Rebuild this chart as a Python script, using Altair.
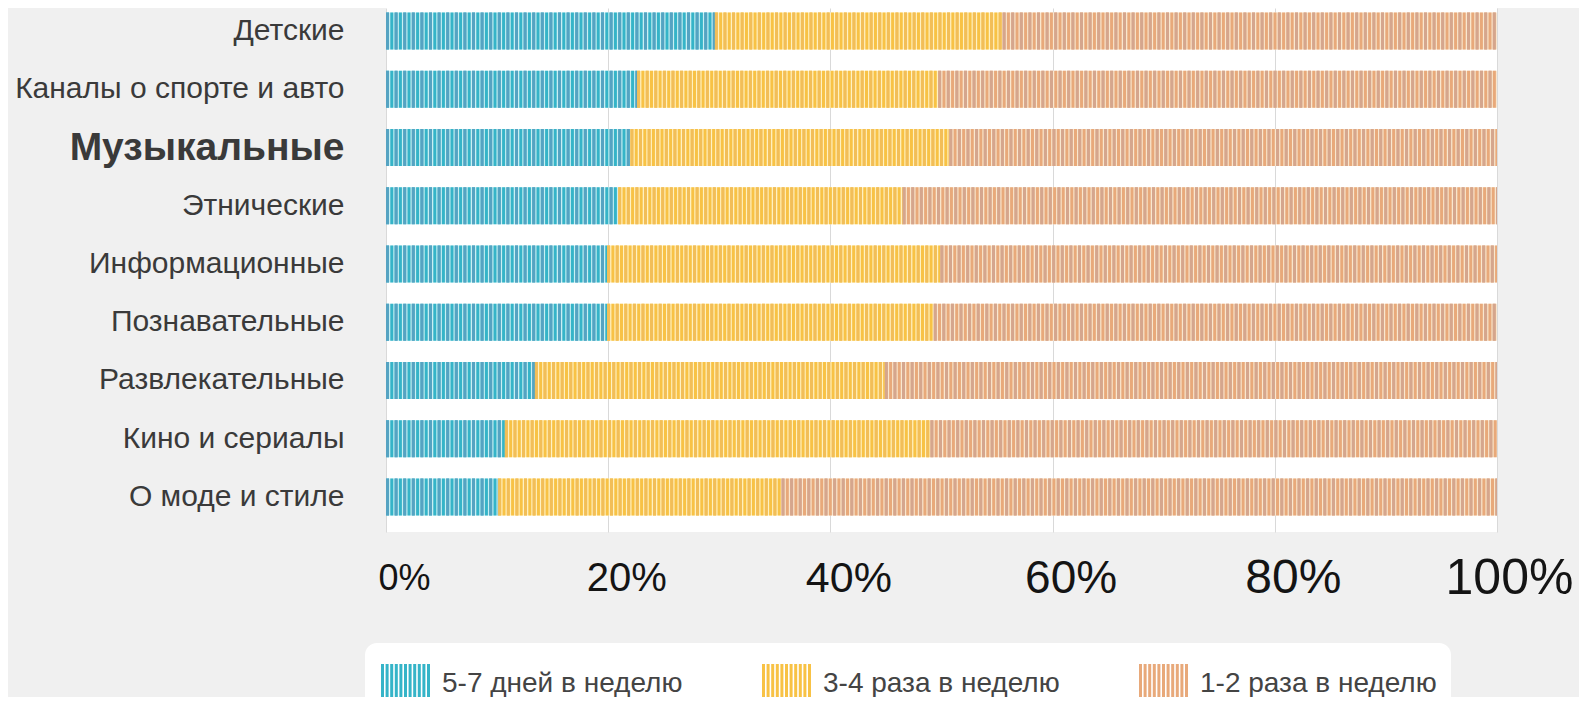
import altair as alt
import pandas as pd

categories = ["Детские", "Каналы о спорте и авто", "Музыкальные", "Этнические",
              "Информационные", "Познавательные", "Развлекательные",
              "Кино и сериалы", "О моде и стиле"]
series = ["5-7 дней в неделю", "3-4 раза в неделю", "1-2 раза в неделю"]
days_5_7 = [29.6, 22.6, 22.0, 20.9, 19.9, 19.9, 13.4, 10.7, 10.1]
days_3_4 = [25.9, 27.1, 28.7, 25.6, 30.0, 29.4, 31.5, 38.3, 25.5]
days_1_2 = [44.5, 50.3, 49.3, 53.5, 50.1, 50.7, 55.1, 51.0, 64.4]
tick_values = [0, 0.2, 0.4, 0.6, 0.8, 1.0]

stripe_colors = ["#35b4c8", "#f8c245", "#e8a97a"]
alt_stripe_colors = ["#5e9fc0", "#f0bd5c", "#cfa592"]
gap_colors = ["#c9eff3", "#fff1c2", "#f9e7cf"]

rows = []
for i, c in enumerate(categories):
    for j, v in enumerate([days_5_7[i], days_3_4[i], days_1_2[i]]):
        rows.append({"cat": c, "series": series[j], "order": j, "value": v})
df = pd.DataFrame(rows)

SHIFT = -6
BAR_H = 37

base = alt.Chart(df).transform_stack(
    stack="value", groupby=["cat"], as_=["x0", "x1"], offset="normalize",
    sort=[alt.SortField("order", order="ascending")]
)

x_enc = alt.X(
    "x0:Q",
    scale=alt.Scale(domain=[0, 1], nice=False),
    axis=alt.Axis(
        values=tick_values, format="%", title=None, domain=False, ticks=False,
        grid=True, gridColor="#d9d9d9", gridWidth=1,
        labelFont="Liberation Sans", labelColor="#141414",
        labelFontSize={"condition": [
            {"test": "datum.value < 0.1", "value": 36},
            {"test": "datum.value < 0.3", "value": 40},
            {"test": "datum.value < 0.5", "value": 43},
            {"test": "datum.value < 0.7", "value": 46},
            {"test": "datum.value < 0.9", "value": 48}], "value": 50},
        labelOffset={"condition": {"test": "datum.value > 0.9", "value": 12}, "value": 18},
        labelBaseline="middle", labelPadding=46,
        labelFlush=False, labelOverlap=False,
    ),
)
y_enc = alt.Y(
    "cat:N", sort=categories,
    scale=alt.Scale(paddingInner=0, paddingOuter=0),
    axis=alt.Axis(
        title=None, domain=False, ticks=False, grid=False,
        labelFont="Liberation Sans", labelColor="#3a3a3a",
        labelFontSize={"condition": {"test": "datum.value == 'Музыкальные'", "value": 39}, "value": 30},
        labelFontWeight={"condition": {"test": "datum.value == 'Музыкальные'", "value": "bold"}, "value": "normal"},
        labelPadding=42, labelOffset=SHIFT, labelLimit=400,
    ),
)

legend_path = ("M-0.92,-0.78V0.78M-0.736,-0.78V0.78M-0.552,-0.78V0.78M-0.368,-0.78V0.78"
               "M-0.184,-0.78V0.78M0,-0.78V0.78M0.184,-0.78V0.78M0.368,-0.78V0.78"
               "M0.552,-0.78V0.78M0.736,-0.78V0.78M0.92,-0.78V0.78")

bars = base.transform_calculate(bg="datum.series").mark_bar(height=BAR_H, yOffset=SHIFT).encode(
    x=x_enc, x2="x1:Q", y=y_enc,
    fill=alt.Fill("bg:N", scale=alt.Scale(domain=series, range=gap_colors), legend=None),
)

stripes = base.mark_rule(strokeWidth=BAR_H, strokeDash=[3.0, 1.3], strokeCap="butt", yOffset=SHIFT).encode(
    x=x_enc, x2="x1:Q", y=y_enc,
    stroke=alt.Stroke(
        "series:N", scale=alt.Scale(domain=series, range=stripe_colors),
        sort=series,
        legend=alt.Legend(
            orient="none", legendX=-21, legendY=635, direction="horizontal", title=None,
            fillColor="white", cornerRadius=12, padding=14,
            symbolType=legend_path, symbolSize=2500, symbolStrokeWidth=3,
            symbolFillColor="transparent",
            labelFont="Liberation Sans", labelFontSize=28, labelColor="#444444",
            labelOffset=10, columnPadding=74, labelLimit=400,
        ),
    ),
)

alt_stripes = base.transform_calculate(s2="datum.series").mark_rule(
    strokeWidth=BAR_H, strokeDash=[3.0, 5.6], strokeCap="butt", yOffset=SHIFT, opacity=0.8
).encode(
    x=x_enc, x2="x1:Q", y=y_enc,
    stroke=alt.Stroke("s2:N", scale=alt.Scale(domain=series, range=alt_stripe_colors), legend=None),
)

chart = alt.layer(bars, stripes, alt_stripes).resolve_scale(
    fill="independent", stroke="independent"
).properties(
    width=1111, height=524,
    background="#f0f0f0",
    padding={"left": 378, "top": 0, "right": 82, "bottom": 165},
    autosize=alt.AutoSizeParams(type="none"),
).configure_view(stroke=None, fill="white")

chart.save("out.html", embed_options={"renderer": "svg", "actions": False})
